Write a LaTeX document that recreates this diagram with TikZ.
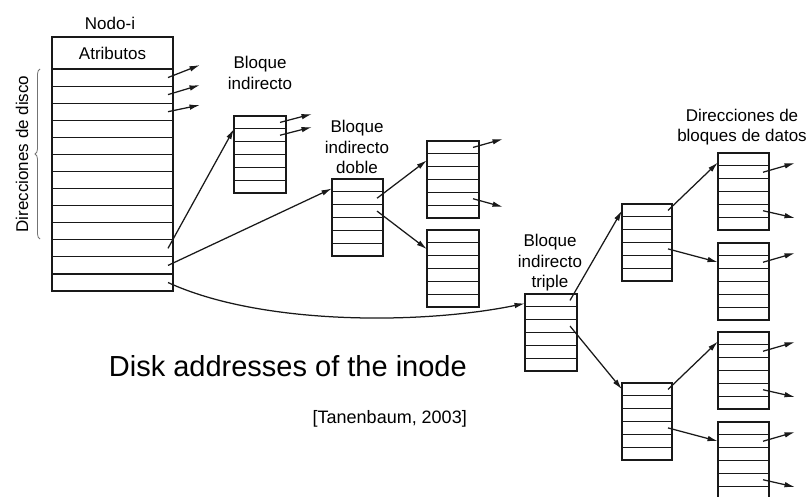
\documentclass[tikz,border=0pt]{standalone}
\usepackage{fontspec}
\setmainfont{Liberation Sans}
\usetikzlibrary{arrows.meta,decorations.pathreplacing}
\newcommand\mkblock[6]{%
  \foreach \i in {1,...,#6}{%
    \node[rowbox, minimum width=#4pt, minimum height=#5pt, anchor=north west] (#1-\i) at (#2,{#3+(\i-1)*#5}) {};
  }%
  \draw[blkline] (#1-1.north west) rectangle (#1-#6.south east);
  \foreach \i in {2,...,#6}{%
    \draw[blkline] (#1-\i.north west) -- (#1-\i.north east);
  }%
}
\begin{document}
\begin{tikzpicture}[x=1pt,y=-1pt,
  rowbox/.style={inner sep=0pt, outer sep=0pt},
  blkline/.style={draw=black!90, line width=1.15pt},
  arr/.style={draw=black!90, line width=1.25pt, -{Latex[length=10.5pt,width=5.5pt]}},
  lbl/.style={font=\fontsize{17}{20.5}\selectfont, align=center, text=black, inner sep=0pt},
  brc/.style={draw=black!55, line width=0.8pt, decorate, decoration={brace, amplitude=5pt}}]
\useasboundingbox (0,0) rectangle (811,497);
\fill[white] (0,0) rectangle (811,497);

% inode
\node[rowbox, draw=black!90, line width=1.15pt, minimum width=121pt, minimum height=32pt, anchor=north west, font=\fontsize{17}{20.5}\selectfont] (atr) at (52,37) {Atributos};
\mkblock{in}{52}{69}{121}{17.08}{13}
\node[lbl] (nodoi) at (110,23) {Nodo-i};

% brace and its label
\coordinate (brb) at (40,239);
\coordinate (brt) at (40,69);
\draw[brc] (brb) -- (brt);
\node[lbl, rotate=90] (dirdisco) at (22,154) {Direcciones de disco};

% blocks
\mkblock{SI}{234}{116}{52}{12.83}{6}
\mkblock{DI}{332}{179}{51}{12.83}{6}
\mkblock{Da}{427}{141}{52}{12.83}{6}
\mkblock{Db}{427}{230}{52}{12.83}{6}
\mkblock{TI}{525}{294}{52}{12.83}{6}
\mkblock{Ta}{622}{204}{50}{12.83}{6}
\mkblock{Tb}{622}{383}{50}{12.83}{6}
\mkblock{dA}{718}{153}{51}{12.83}{6}
\mkblock{dB}{718}{243}{51}{12.83}{6}
\mkblock{dC}{718}{332}{51}{12.83}{6}
\mkblock{dD}{718}{422}{51}{12.83}{6}

% labels
\node[lbl] (lsi) at (260,73) {Bloque\\indirecto};
\node[lbl] (ldi) at (357,147) {Bloque\\indirecto\\doble};
\node[lbl] (lti) at (550,263) {Bloque\\indirecto\\triple};
\node[lbl] (ldat) at (742,127) {Direcciones de\\bloques de datos};
\node[font=\fontsize{29}{34}\selectfont, anchor=base east, inner sep=0pt] (title) at (467,376) {Disk addresses of the inode};
\node[font=\fontsize{18}{21}\selectfont, anchor=base east, inner sep=0pt] (cite) at (467,423) {[Tanenbaum, 2003]};

% free ends
\coordinate (e1) at (200,65);
\coordinate (e2) at (200,85);
\coordinate (e3) at (200,105);
\coordinate (e7) at (312,114);
\coordinate (e8) at (312,127);
\coordinate (e11) at (503,139);
\coordinate (e12) at (503,207);
\coordinate (e19) at (795,163);
\coordinate (e20) at (795,218);
\coordinate (e21) at (795,253);
\coordinate (e22) at (795,342);
\coordinate (e23) at (795,397);
\coordinate (e24) at (795,432);
\coordinate (e25) at (795,487);

% inode arrows
\draw[arr] ([xshift=-5pt]in-1.east) -- (e1);
\draw[arr] ([xshift=-5pt]in-2.east) -- (e2);
\draw[arr] ([xshift=-5pt]in-3.east) -- (e3);
\draw[arr] ([xshift=-5pt]in-11.east) -- (SI-2.north west);
\draw[arr] ([xshift=-5pt]in-12.east) -- ([yshift=-3pt]DI-1.west);
\draw[arr] ([xshift=-5pt]in-13.east) .. controls (260,325) and (420,325) .. ([yshift=-3pt]TI-1.west);

% single indirect
\draw[arr] ([xshift=-6pt]SI-1.east) -- (e7);
\draw[arr] ([xshift=-6pt]SI-2.east) -- (e8);

% double indirect
\draw[arr] ([xshift=-6pt]DI-2.east) -- (Da-2.west);
\draw[arr] ([xshift=-6pt]DI-3.east) -- (Db-2.west);
\draw[arr] ([xshift=-6pt]Da-1.east) -- (e11);
\draw[arr] ([xshift=-6pt]Da-5.east) -- (e12);

% triple indirect
\draw[arr] ([xshift=-7pt]TI-1.east) -- (Ta-1.west);
\draw[arr] ([xshift=-7pt]TI-3.east) -- (Tb-1.west);
\draw[arr] ([xshift=-4pt]Ta-1.east) -- ([yshift=-3pt]dA-1.west);
\draw[arr] ([xshift=-4pt]Ta-4.east) -- (dB-2.west);
\draw[arr] ([xshift=-4pt]Tb-1.east) -- ([yshift=-3pt]dC-1.west);
\draw[arr] ([xshift=-4pt]Tb-4.east) -- (dD-2.west);

% data address blocks
\draw[arr] ([xshift=-6pt]dA-2.east) -- (e19);
\draw[arr] ([xshift=-6pt]dA-5.east) -- (e20);
\draw[arr] ([xshift=-6pt]dB-2.east) -- (e21);
\draw[arr] ([xshift=-6pt]dC-2.east) -- (e22);
\draw[arr] ([xshift=-6pt]dC-5.east) -- (e23);
\draw[arr] ([xshift=-6pt]dD-2.east) -- (e24);
\draw[arr] ([xshift=-6pt]dD-5.east) -- (e25);
\end{tikzpicture}
\end{document}
